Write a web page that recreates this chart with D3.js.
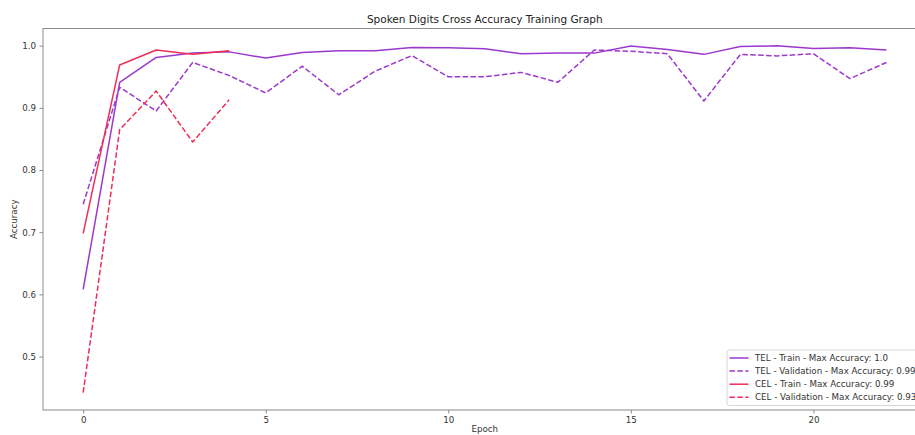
<!DOCTYPE html>
<html>
<head>
<meta charset="utf-8">
<script src="https://cdn.jsdelivr.net/npm/d3@7"></script>
<style>
  html, body { margin: 0; padding: 0; background: #fff; }
  svg { display: block; font-family: "DejaVu Sans", sans-serif; }
</style>
</head>
<body>
<svg id="chart" width="915" height="435"></svg>
<script>
// Accuracy per epoch for the two models (TEL and CEL)
const telTrain = [0.608, 0.941, 0.981, 0.988, 0.990, 0.980, 0.989, 0.992, 0.992, 0.997, 0.9965,
                  0.995, 0.987, 0.988, 0.988, 0.9995, 0.994, 0.986, 0.9985, 0.9997, 0.9955, 0.9965, 0.993];
const telVal   = [0.745, 0.933, 0.895, 0.973, 0.952, 0.924, 0.967, 0.921, 0.959, 0.984, 0.950,
                  0.950, 0.957, 0.941, 0.993, 0.991, 0.987, 0.911, 0.986, 0.9835, 0.987, 0.947, 0.973];
const celTrain = [0.698, 0.969, 0.993, 0.986, 0.992];
const celVal   = [0.442, 0.865, 0.927, 0.845, 0.913];

const xTicks = [0, 5, 10, 15, 20];
const yTicks = [0.5, 0.6, 0.7, 0.8, 0.9, 1.0];

const titleText = "Spoken Digits Cross Accuracy Training Graph";
const xLabel = "Epoch";
const yLabel = "Accuracy";

const purple = "#9d38cc";
const red = "#ee2e57";

// Python-style rounding to 2 decimals ("1.0" rather than "1")
function pyRound(v) {
  const r = Math.round(v * 100) / 100;
  return Number.isInteger(r) ? r.toFixed(1) : String(r);
}

const seriesList = [
  { name: "TEL - Train", values: telTrain, color: purple, dashed: false },
  { name: "TEL - Validation", values: telVal, color: purple, dashed: true },
  { name: "CEL - Train", values: celTrain, color: red, dashed: false },
  { name: "CEL - Validation", values: celVal, color: red, dashed: true }
];

const svg = d3.select("#chart");
const plot = { left: 43, right: 926.6, top: 28.5, bottom: 410 };

// Data limits with 5% padding on each side
const allVals = seriesList.flatMap(s => s.values);
const nMax = d3.max(seriesList, s => s.values.length) - 1;
const xPad = nMax * 0.05;
const yMin = d3.min(allVals), yMax = d3.max(allVals);
const yPad = (yMax - yMin) * 0.05;

const x = d3.scaleLinear().domain([-xPad, nMax + xPad]).range([plot.left, plot.right]);
const y = d3.scaleLinear().domain([yMin - yPad, yMax + yPad]).range([plot.bottom, plot.top]);

const textColor = "#333";
const spineColor = "#8c8c8c";
const fs = 8.7;

// Lines
const line = d3.line().x((d, i) => x(i)).y(d => y(d));
const g = svg.append("g");
seriesList.forEach(s => {
  g.append("path")
    .datum(s.values)
    .attr("d", line)
    .attr("fill", "none")
    .attr("stroke", s.color)
    .attr("stroke-width", 1.5)
    .attr("stroke-dasharray", s.dashed ? "5.5,2.4" : null)
    .attr("stroke-linejoin", "round");
});

// Spines
svg.append("rect")
  .attr("x", plot.left).attr("y", plot.top)
  .attr("width", plot.right - plot.left).attr("height", plot.bottom - plot.top)
  .attr("fill", "none").attr("stroke", spineColor).attr("stroke-width", 1);

// Axes
const xAxis = svg.append("g")
  .attr("transform", `translate(0,${plot.bottom})`)
  .call(d3.axisBottom(x).tickValues(xTicks).tickSize(3.5).tickPadding(3.5).tickFormat(d3.format("d")));
const yAxis = svg.append("g")
  .attr("transform", `translate(${plot.left},0)`)
  .call(d3.axisLeft(y).tickValues(yTicks).tickSize(3.5).tickPadding(3.5).tickFormat(d3.format(".1f")));
[xAxis, yAxis].forEach(a => {
  a.select(".domain").remove();
  a.selectAll(".tick line").attr("stroke", spineColor);
  a.selectAll(".tick text").attr("fill", textColor).attr("font-size", fs)
    .attr("font-family", "DejaVu Sans, sans-serif");
});

// Title and axis labels
svg.append("text")
  .attr("x", (plot.left + plot.right) / 2).attr("y", 23)
  .attr("text-anchor", "middle").attr("font-size", 10.5).attr("fill", "#222")
  .text(titleText);
svg.append("text")
  .attr("x", (plot.left + plot.right) / 2).attr("y", 431.5)
  .attr("text-anchor", "middle").attr("font-size", fs).attr("fill", textColor)
  .text(xLabel);
svg.append("text")
  .attr("transform", `translate(17,${(plot.top + plot.bottom) / 2}) rotate(-90)`)
  .attr("text-anchor", "middle").attr("font-size", fs).attr("fill", textColor)
  .text(yLabel);

// Legend, lower right
const legend = svg.append("g").attr("transform", "translate(727,350)");
legend.append("rect")
  .attr("x", 0).attr("y", 0).attr("width", 197).attr("height", 55.5)
  .attr("rx", 2.5)
  .attr("fill", "#fff").attr("fill-opacity", 0.8)
  .attr("stroke", "#d6d6d6").attr("stroke-width", 1);
seriesList.forEach((s, i) => {
  const cy = 8 + i * 13.1;
  legend.append("line")
    .attr("x1", 2.5).attr("x2", 21.5).attr("y1", cy).attr("y2", cy)
    .attr("stroke", s.color).attr("stroke-width", 1.5)
    .attr("stroke-dasharray", s.dashed ? "5.5,2.4" : null);
  legend.append("text")
    .attr("x", 28).attr("y", cy).attr("dy", "0.35em")
    .attr("font-size", fs).attr("fill", textColor)
    .text(`${s.name} - Max Accuracy: ${pyRound(d3.max(s.values))}`);
});
</script>
</body>
</html>
